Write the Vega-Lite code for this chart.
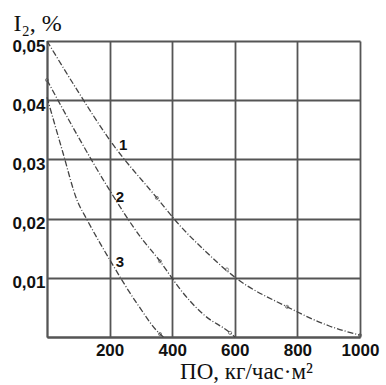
{
  "$schema": "https://vega.github.io/schema/vega-lite/v6.json",
  "width": 313,
  "height": 296,
  "autosize": "none",
  "padding": {"left": 47, "top": 41, "right": 26, "bottom": 48},
  "background": "white",
  "config": {"view": {"stroke": null}},
  "datasets": {
    "curves": [
      {"curve": "1", "x": 0, "y": 0.05},
      {"curve": "1", "x": 100, "y": 0.0414},
      {"curve": "1", "x": 200, "y": 0.0333},
      {"curve": "1", "x": 351, "y": 0.0235},
      {"curve": "1", "x": 425, "y": 0.0188},
      {"curve": "1", "x": 500, "y": 0.0148},
      {"curve": "1", "x": 600, "y": 0.0101},
      {"curve": "1", "x": 767, "y": 0.0051},
      {"curve": "1", "x": 900, "y": 0.0019},
      {"curve": "1", "x": 1000, "y": 0.0003},
      {"curve": "2", "x": 0, "y": 0.0434},
      {"curve": "2", "x": 100, "y": 0.0338},
      {"curve": "2", "x": 200, "y": 0.0248},
      {"curve": "2", "x": 300, "y": 0.0168},
      {"curve": "2", "x": 361, "y": 0.0128},
      {"curve": "2", "x": 400, "y": 0.0099},
      {"curve": "2", "x": 425, "y": 0.0081},
      {"curve": "2", "x": 500, "y": 0.0038},
      {"curve": "2", "x": 585, "y": 0.0007},
      {"curve": "2", "x": 600, "y": 0.0},
      {"curve": "3", "x": 0, "y": 0.0405},
      {"curve": "3", "x": 50, "y": 0.0313},
      {"curve": "3", "x": 96, "y": 0.0231},
      {"curve": "3", "x": 128, "y": 0.0198},
      {"curve": "3", "x": 201, "y": 0.013},
      {"curve": "3", "x": 287, "y": 0.0057},
      {"curve": "3", "x": 361, "y": 0.0005},
      {"curve": "3", "x": 372, "y": 0.0}
    ],
    "markers": [
      {"curve": "1", "x": 351, "y": 0.0235},
      {"curve": "1", "x": 575, "y": 0.0114},
      {"curve": "1", "x": 767, "y": 0.0051},
      {"curve": "1", "x": 1000, "y": 0.0003},
      {"curve": "2", "x": 0, "y": 0.0434},
      {"curve": "2", "x": 361, "y": 0.0128},
      {"curve": "2", "x": 585, "y": 0.0007},
      {"curve": "3", "x": 361, "y": 0.0005}
    ],
    "labels": [
      {"label": "1", "x": 243, "y": 0.0324},
      {"label": "2", "x": 233, "y": 0.0236},
      {"label": "3", "x": 233, "y": 0.0127}
    ]
  },
  "layer": [
    {
      "data": {"name": "curves"},
      "mark": {"type": "line", "interpolate": "monotone", "color": "#444444", "strokeWidth": 1.3, "strokeDash": [6, 2, 1, 2]},
      "encoding": {
        "x": {
          "field": "x", "type": "quantitative",
          "scale": {"domain": [0, 1000], "nice": false},
          "axis": {
            "values": [0, 200, 400, 600, 800, 1000],
            "grid": true, "gridColor": "#555555", "gridWidth": 1.8, "gridOpacity": 1,
            "domain": true, "domainColor": "#555555", "domainWidth": 1.8,
            "ticks": false,
            "format": "d",
            "labelExpr": "datum.value == 0 ? '' : datum.label",
            "labelFont": "Liberation Sans", "labelFontSize": 17, "labelFontWeight": "bold", "labelColor": "#111111",
            "labelPadding": 5, "labelOverlap": false, "labelFlush": false,
            "title": "ПО, кг/час·м²",
            "titleFont": "Liberation Serif", "titleFontSize": 23, "titleFontWeight": "normal", "titleColor": "#111111",
            "titleX": 199, "titleY": 41, "titleAlign": "center", "titleBaseline": "alphabetic", "titleAnchor": null
          }
        },
        "y": {
          "field": "y", "type": "quantitative",
          "scale": {"domain": [0, 0.05], "nice": false},
          "axis": {
            "values": [0, 0.01, 0.02, 0.03, 0.04, 0.05],
            "grid": true, "gridColor": "#555555", "gridWidth": 1.8, "gridOpacity": 1,
            "domain": true, "domainColor": "#555555", "domainWidth": 1.8,
            "ticks": false,
            "labelExpr": "datum.value == 0 ? '' : replace(format(datum.value, '.2f'), '.', ',')",
            "labelFont": "Liberation Sans", "labelFontSize": 17, "labelFontWeight": "bold", "labelColor": "#111111",
            "labelPadding": 2, "labelOffset": 5, "labelOverlap": false, "labelFlush": false,
            "title": "I₂, %",
            "titleFont": "Liberation Serif", "titleFontSize": 24, "titleFontWeight": "normal", "titleColor": "#111111",
            "titleAngle": 0, "titleX": -34, "titleY": -11, "titleAlign": "left", "titleBaseline": "alphabetic", "titleAnchor": null
          }
        },
        "detail": {"field": "curve", "type": "nominal"}
      }
    },
    {
      "data": {"name": "markers"},
      "mark": {"type": "point", "shape": "circle", "size": 10, "filled": false, "color": "#555555", "strokeWidth": 1},
      "encoding": {
        "x": {"field": "x", "type": "quantitative"},
        "y": {"field": "y", "type": "quantitative"}
      }
    },
    {
      "data": {"name": "labels"},
      "mark": {"type": "text", "font": "Liberation Sans", "fontSize": 15, "fontWeight": "bold", "color": "#111111", "align": "center", "baseline": "middle"},
      "encoding": {
        "x": {"field": "x", "type": "quantitative"},
        "y": {"field": "y", "type": "quantitative"},
        "text": {"field": "label"}
      }
    }
  ]
}
